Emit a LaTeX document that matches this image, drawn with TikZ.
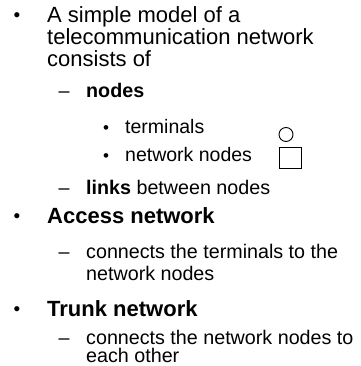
\documentclass[tikz,border=0pt]{standalone}
\usepackage{fontspec}
\setmainfont{Liberation Sans}
\begin{document}
\begin{tikzpicture}[x=1pt,y=-1pt,
  lone/.style={anchor=base west,inner sep=0pt,font=\fontsize{22}{22}\selectfont},
  ltwo/.style={anchor=base west,inner sep=0pt,font=\fontsize{19.7}{20}\selectfont},
  lthree/.style={anchor=base west,inner sep=0pt,font=\fontsize{19.5}{20}\selectfont},
  bulone/.style={anchor=base,inner sep=0pt,font=\fontsize{19}{19}\selectfont},
  bulthree/.style={anchor=base,inner sep=0pt,font=\fontsize{17}{17}\selectfont},
  dashtwo/.style={anchor=base,inner sep=0pt,font=\fontsize{19.7}{20}\selectfont},
  term/.style={draw,circle,minimum size=14pt,inner sep=0pt,line width=0.9pt},
  netnode/.style={draw,line width=0.9pt}]
\useasboundingbox (0,0) rectangle (360,366);
% level 1: intro
\node[bulone] (b1) at (17,22) {•};
\node[lone] (t1a) at (47,23) {A simple model of a};
\node[lone] (t1b) at (47,45) {telecommunication network};
\node[lone] (t1c) at (47,67) {consists of};
% level 2: nodes
\node[dashtwo] (d1) at (64,98) {–};
\node[ltwo] (t2a) at (86,98) {\bfseries nodes};
% level 3
\node[bulthree] (b3a) at (106,134) {•};
\node[lthree] (t3a) at (125,134) {terminals};
\node[bulthree] (b3b) at (106,161) {•};
\node[lthree] (t3b) at (125,161) {network nodes};
\node[term] (circ) at (286,134.5) {};
\node[netnode,minimum width=22pt,minimum height=21pt,inner sep=0pt] (sq) at (290,157.5) {};
% level 2: links
\node[dashtwo] (d2) at (64,194) {–};
\node[ltwo] (t2b) at (86,194) {\bfseries links\mdseries{} between nodes};
% level 1: access
\node[bulone] (b2) at (17,222) {•};
\node[lone] (t1d) at (47,223) {\bfseries Access network};
\node[dashtwo] (d3) at (64,258) {–};
\node[ltwo] (t2c) at (86,258) {connects the terminals to the};
\node[ltwo] (t2d) at (86,280) {network nodes};
% level 1: trunk
\node[bulone] (b3) at (17,315) {•};
\node[lone] (t1e) at (47,316) {\bfseries Trunk network};
\node[dashtwo] (d4) at (64,344) {–};
\node[ltwo] (t2e) at (86,344) {connects the network nodes to};
\node[ltwo] (t2f) at (86,362) {each other};
\end{tikzpicture}
\end{document}
